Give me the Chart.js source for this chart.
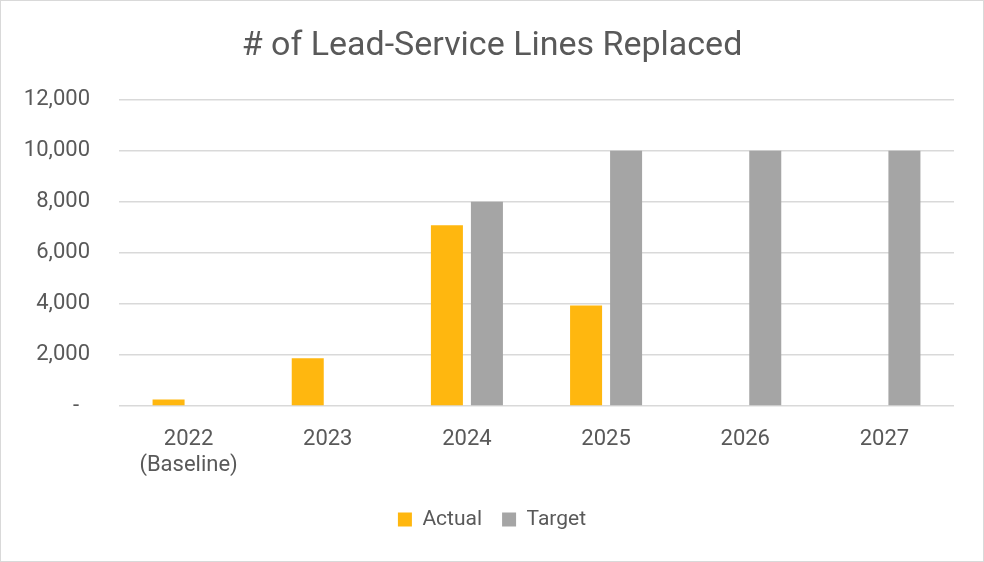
<!DOCTYPE html>
<html>
<head>
<meta charset="utf-8">
<script src="https://cdn.jsdelivr.net/npm/chart.js@4"></script>
<style>
  html, body { margin: 0; padding: 0; background: #fff; }
  #wrap { position: relative; width: 982px; height: 560px; border: 1px solid #d9d9d9; }
</style>
</head>
<body>
<div id="wrap"><canvas id="chart" width="982" height="560"></canvas></div>
<script>
// chart data
const years = [["2022", "(Baseline)"], "2023", "2024", "2025", "2026", "2027"];
const actual = [250, 1870, 7080, 3940, null, null];
const target = [null, null, 8000, 10000, 10000, 10000];
const yTicks = [0, 2000, 4000, 6000, 8000, 10000, 12000];

const textColor = "#595959";
const fontFamily = "Roboto, 'Liberation Sans', sans-serif";

let ctx = document.getElementById("chart").getContext("2d");

let chartData = {
    type: 'bar',
    data: {
        labels: years,
        datasets: [{
            label: 'Actual',
            data: actual,
            backgroundColor: '#FFB70F',
            categoryPercentage: 0.575,
            barPercentage: 0.8
        }, {
            label: 'Target',
            data: target,
            backgroundColor: '#A5A5A5',
            categoryPercentage: 0.575,
            barPercentage: 0.8
        }]
    },
    options: {
        responsive: false,
        animation: false,
        layout: { padding: { left: 0, right: 0, top: 0, bottom: 21 } },
        plugins: {
            title: {
                display: true,
                text: '# of Lead-Service Lines Replaced',
                color: textColor,
                font: { family: fontFamily, size: 34, weight: 'normal' },
                padding: { top: 25, bottom: 33 }
            },
            legend: {
                position: 'bottom',
                labels: {
                    color: textColor,
                    font: { family: fontFamily, size: 21 },
                    boxWidth: 14,
                    boxHeight: 14,
                    padding: 20
                }
            },
            tooltip: { enabled: false }
        },
        scales: {
            x: {
                grid: { display: false },
                border: { display: false },
                ticks: {
                    color: textColor,
                    font: { family: fontFamily, size: 22 },
                    padding: 12
                },
                afterFit: function (axis) { axis.height = 83; }
            },
            y: {
                min: 0,
                max: 12000,
                afterBuildTicks: function (axis) {
                    axis.ticks = yTicks.map(v => ({ value: v }));
                },
                grid: { color: '#d9d9d9', lineWidth: 1.5, drawTicks: false },
                border: { display: false },
                ticks: {
                    color: textColor,
                    font: { family: fontFamily, size: 22 },
                    padding: 29,
                    callback: function (value) {
                        return value === 0 ? '-  ' : value.toLocaleString('en-US');
                    }
                },
                afterFit: function (axis) { axis.width = 118; }
            },
            // empty right-hand axis, only keeps the gap after the plot
            spacer: {
                position: 'right',
                grid: { display: false },
                border: { display: false },
                ticks: { display: false },
                afterFit: function (axis) { axis.width = 29; }
            }
        }
    }
};

let leadChart = new Chart(ctx, chartData);
</script>
</body>
</html>
